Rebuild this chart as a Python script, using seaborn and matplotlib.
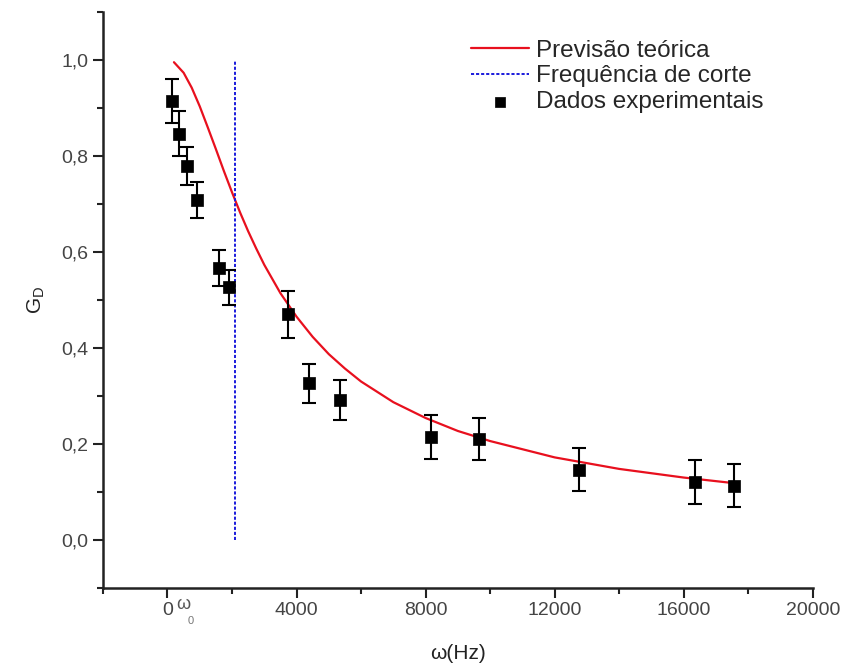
import numpy as np
import pandas as pd
import matplotlib
matplotlib.use("Agg")
import matplotlib.pyplot as plt
import seaborn as sns
from matplotlib.ticker import MultipleLocator, FuncFormatter

freq_exp = [155, 370, 620, 900, 1610, 1920, 3750, 4400, 5350, 8180, 9650, 12750, 16340, 17560]
ganho_exp = [0.914, 0.846, 0.779, 0.708, 0.566, 0.526, 0.470, 0.326, 0.292, 0.215, 0.210, 0.146, 0.120, 0.113]
erro_exp = [0.046, 0.047, 0.040, 0.037, 0.037, 0.037, 0.049, 0.041, 0.042, 0.046, 0.043, 0.045, 0.046, 0.045]

# Curva teorica
freq_teo = [200, 500, 750, 1000, 1250, 1500, 1750, 2000, 2250, 2500, 2750, 3000, 3500, 4000, 4500,
            5000, 5500, 6000, 7000, 8000, 9000, 10000, 12000, 14000, 16000, 17600]
ganho_teo = [0.995, 0.973, 0.942, 0.903, 0.859, 0.814, 0.768, 0.724, 0.682, 0.643, 0.607, 0.573,
             0.514, 0.465, 0.423, 0.387, 0.357, 0.330, 0.287, 0.254, 0.227, 0.206, 0.172, 0.148,
             0.130, 0.118]

# Frequencia de corte
freq_corte = 2100
corte_y = [0.0, 1.0]

df_exp = pd.DataFrame({"w": freq_exp, "G": ganho_exp, "err": erro_exp})
df_teo = pd.DataFrame({"w": freq_teo, "G": ganho_teo})

sns.set_style("ticks")
plt.rcParams["font.family"] = ["Liberation Sans", "DejaVu Sans"]
plt.rcParams["mathtext.fontset"] = "custom"
plt.rcParams["mathtext.rm"] = "Liberation Sans"

fig = plt.figure(figsize=(8.44, 6.70), dpi=100)
ax = fig.add_axes([0.122, 0.1224, 0.841, 0.86])

sns.lineplot(data=df_teo, x="w", y="G", color="#e8101e", linewidth=1.6,
             label="Previsão teórica", ax=ax)
ax.plot([freq_corte, freq_corte], corte_y, color="#1a1adc", linestyle=(0, (1.6, 1.0)),
        linewidth=1.4, label="Frequência de corte")
ax.errorbar(df_exp["w"], df_exp["G"], yerr=df_exp["err"], fmt="none", ecolor="black",
            elinewidth=1.5, capsize=5, capthick=1.5, zorder=3)
sns.scatterplot(data=df_exp, x="w", y="G", marker="s", color="black", s=80,
                edgecolor="black", linewidth=0.5, label="Dados experimentais", ax=ax, zorder=4)

ax.set_xlim(-2000, 20000)
ax.set_ylim(-0.1, 1.1)
ax.xaxis.set_major_locator(MultipleLocator(4000))
ax.xaxis.set_minor_locator(MultipleLocator(2000))
ax.yaxis.set_major_locator(MultipleLocator(0.2))
ax.yaxis.set_minor_locator(MultipleLocator(0.1))
ax.xaxis.set_major_formatter(FuncFormatter(lambda v, p: f"{v:.0f}"))
ax.yaxis.set_major_formatter(FuncFormatter(lambda v, p: f"{v:.1f}".replace(".", ",")))

sns.despine(ax=ax)
for s in ["left", "bottom"]:
    ax.spines[s].set_linewidth(1.8)
    ax.spines[s].set_color("#222222")
ax.tick_params(which="major", length=7, width=1.5, labelsize=14, colors="#222222", labelcolor="#444444")
ax.tick_params(which="minor", length=4, width=1.5, colors="#222222")
ax.tick_params(axis="x", which="major", pad=3)

# rotulo omega_0 junto ao zero
ax.text(260, -0.135, "ω", fontsize=13, color="#555555", ha="left", va="center")
ax.text(620, -0.168, "0", fontsize=8, color="#777777", ha="left", va="center")

ax.set_xlabel("ω(Hz)", fontsize=15, color="#222222", labelpad=18)
ax.set_ylabel("G$_\\mathrm{D}$", fontsize=15, color="#222222", labelpad=10)

ax.legend(loc="upper left", bbox_to_anchor=(0.494, 0.981), frameon=False, fontsize=17.5,
          handlelength=2.4, handletextpad=0.3, labelspacing=0.15, borderaxespad=0.3,
          markerscale=0.8)

fig.savefig("out.png", dpi=100)
